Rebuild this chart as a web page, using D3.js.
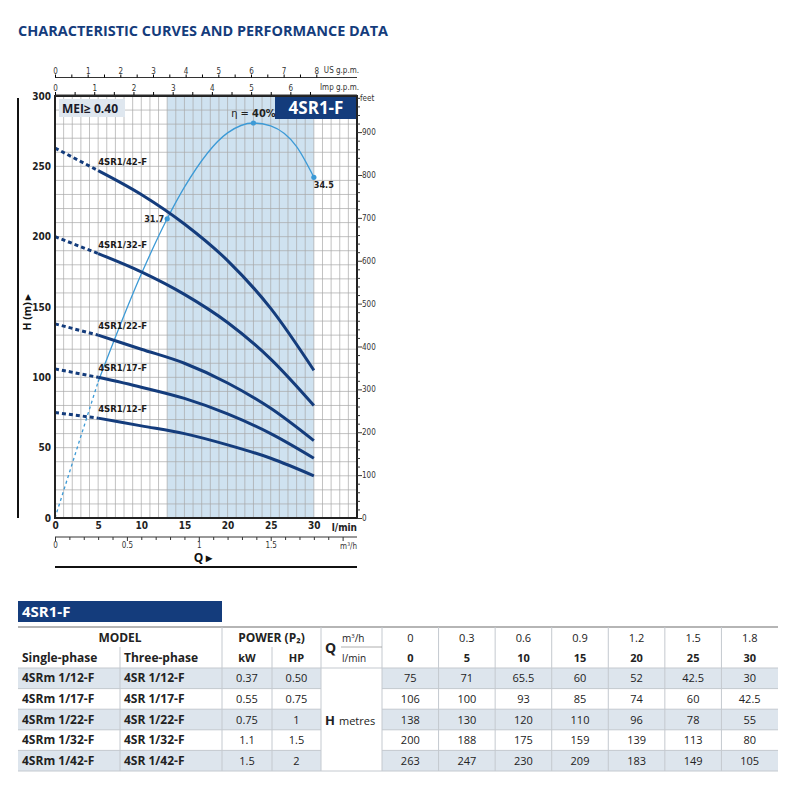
<!DOCTYPE html>
<html lang="en">
<head>
<meta charset="UTF-8">
<title>4SR1-F characteristic curves</title>
<script src="https://cdn.jsdelivr.net/npm/d3@7"></script>
<style>
body { margin: 0; background: #fff; }
svg { display: block; font-family: "Open Sans", sans-serif; }
.narrow { font-family: "Liberation Sans Narrow", "DejaVu Sans Condensed", sans-serif; }
</style>
</head>
<body>
<svg id="chart" width="800" height="800"></svg>
<script>
// ---- data ----
const flowLpm = [0, 5, 10, 15, 20, 25, 30];
const flowM3h = ["0", "0.3", "0.6", "0.9", "1.2", "1.5", "1.8"];
const curveNames = ["4SR1/12-F", "4SR1/17-F", "4SR1/22-F", "4SR1/32-F", "4SR1/42-F"];
const singlePhase = ["4SRm 1/12-F", "4SRm 1/17-F", "4SRm 1/22-F", "4SRm 1/32-F", "4SRm 1/42-F"];
const threePhase = ["4SR 1/12-F", "4SR 1/17-F", "4SR 1/22-F", "4SR 1/32-F", "4SR 1/42-F"];
const powerKw = ["0.37", "0.55", "0.75", "1.1", "1.5"];
const powerHp = ["0.50", "0.75", "1", "1.5", "2"];
const head12 = [75, 71, 65.5, 60, 52, 42.5, 30];
const head17 = [106, 100, 93, 85, 74, 60, 42.5];
const head22 = [138, 130, 120, 110, 96, 78, 55];
const head32 = [200, 188, 175, 159, 139, 113, 80];
const head42 = [263, 247, 230, 209, 183, 149, 105];
const heads = [head12, head17, head22, head32, head42];

// efficiency curve
const etaFlow = [0, 5, 10, 13, 15, 20, 23, 25, 28, 30];
const etaValues = [0, 13.8, 24.7, 30.3, 33.5, 39, 40, 39.7, 37.6, 34.5];
const etaMarkIdx = [3, 6, 9];
const etaMarkLabels = ["31.7", "40%", "34.5"];
const bandFlow = [13, 30];

const hTicks = [0, 50, 100, 150, 200, 250, 300];
const lpmTicks = [0, 5, 10, 15, 20, 25, 30];

const navy = "#143c7c";
const etaBlue = "#3c9ad6";

const svg = d3.select("#chart");

// title
svg.append("text")
    .attr("x", 18).attr("y", 36)
    .attr("fill", navy)
    .attr("font-weight", "bold")
    .attr("font-size", 14)
    .attr("textLength", 370)
    .attr("lengthAdjust", "spacingAndGlyphs")
    .text("CHARACTERISTIC CURVES AND PERFORMANCE DATA");

// ---- scales ----
const L = 55, R = 357, T = 96, B = 518;
const x = d3.scaleLinear().domain([0, 35]).range([L, R]);
const y = d3.scaleLinear().domain([0, 300]).range([B, T]);
const yEta = d3.scaleLinear().domain([0, 40]).range([B, 123]);
const yFt = d3.scaleLinear().domain([0, 300 * 3.28084]).range([B, T]);
const xUS = d3.scaleLinear().domain([0, 35 / 3.78541]).range([L, R]);
const xImp = d3.scaleLinear().domain([0, 35 / 4.54609]).range([L, R]);
const xM3 = d3.scaleLinear().domain([0, 2.1]).range([L, R]);

// efficiency band
svg.append("rect")
    .attr("x", x(bandFlow[0])).attr("y", T)
    .attr("width", x(bandFlow[1]) - x(bandFlow[0])).attr("height", B - T)
    .attr("fill", "#cfe2f0");

// grid
const grid = svg.append("g").attr("stroke", "#a8a8a8").attr("stroke-width", 0.7);
grid.selectAll(".v").data(d3.range(1, 35)).join("line")
    .attr("x1", d => x(d)).attr("x2", d => x(d)).attr("y1", T).attr("y2", B);
grid.selectAll(".h").data(d3.range(10, 300, 10)).join("line")
    .attr("y1", d => y(d)).attr("y2", d => y(d)).attr("x1", L).attr("x2", R);

// MEI box and model badge
svg.append("rect").attr("x", 59).attr("y", 99).attr("width", 66).attr("height", 18).attr("fill", "#dfe7ef");
svg.append("text").attr("x", 62).attr("y", 113).attr("font-weight", "bold").attr("font-size", 12)
    .attr("fill", "#1a1a2a").text("MEI≥ 0.40");
svg.append("rect").attr("x", 275).attr("y", T).attr("width", R - 275).attr("height", 23).attr("fill", navy);
svg.append("text").attr("x", 316).attr("y", 114).attr("text-anchor", "middle")
    .attr("font-weight", "bold").attr("font-size", 17).attr("fill", "#fff").text("4SR1-F");

// efficiency curve
const etaPts = etaFlow.map((q, i) => [q, etaValues[i]]);
const etaLine = d3.line().x(d => x(d[0])).y(d => yEta(d[1])).curve(d3.curveMonotoneX);
svg.append("path").attr("d", etaLine(etaPts.slice(0, 2)))
    .attr("fill", "none").attr("stroke", etaBlue).attr("stroke-width", 1.3).attr("stroke-dasharray", "3,3");
svg.append("path").attr("d", etaLine(etaPts.slice(1)))
    .attr("fill", "none").attr("stroke", etaBlue).attr("stroke-width", 1.3);
svg.selectAll(".etaMark").data(etaMarkIdx).join("circle")
    .attr("cx", i => x(etaFlow[i])).attr("cy", i => yEta(etaValues[i])).attr("r", 2.6).attr("fill", etaBlue);

const m0 = etaMarkIdx[0], m1 = etaMarkIdx[1], m2 = etaMarkIdx[2];
svg.append("text").attr("class", "narrow").attr("x", x(etaFlow[m0]) - 3).attr("y", yEta(etaValues[m0]) + 3)
    .attr("text-anchor", "end").attr("font-size", 9).attr("font-weight", "bold").attr("fill", "#222")
    .text(etaMarkLabels[0]);
svg.append("text").attr("class", "narrow").attr("x", x(etaFlow[m2])).attr("y", yEta(etaValues[m2]) + 11)
    .attr("font-size", 9).attr("font-weight", "bold").attr("fill", "#222").text(etaMarkLabels[2]);
const etaTxt = svg.append("text").attr("class", "narrow").attr("x", x(etaFlow[m1])).attr("y", yEta(etaValues[m1]) - 6)
    .attr("text-anchor", "middle").attr("font-size", 11).attr("fill", "#222");
etaTxt.append("tspan").text("η = ");
etaTxt.append("tspan").attr("font-weight", "bold").text(etaMarkLabels[1]);

// pump curves
const headLine = d3.line().x(d => x(d[0])).y(d => y(d[1])).curve(d3.curveMonotoneX);
heads.forEach((h, k) => {
    const pts = flowLpm.map((q, i) => [q, h[i]]);
    svg.append("path").attr("d", headLine(pts.slice(0, 2)))
        .attr("fill", "none").attr("stroke", navy).attr("stroke-width", 3).attr("stroke-dasharray", "4,3");
    svg.append("path").attr("d", headLine(pts.slice(1)))
        .attr("fill", "none").attr("stroke", navy).attr("stroke-width", 3);
    svg.append("text").attr("class", "narrow")
        .attr("x", x(flowLpm[1])).attr("y", y(h[1]) - 6)
        .attr("font-size", 9.5).attr("font-weight", "bold").attr("fill", "#1a1a1a")
        .text(curveNames[k]);
});

// frame
svg.append("rect").attr("x", L).attr("y", T).attr("width", R - L).attr("height", B - T)
    .attr("fill", "none").attr("stroke", "#222").attr("stroke-width", 2);

// left H axis
const gLeft = svg.append("g").attr("class", "narrow").attr("transform", `translate(${L - 2},0)`)
    .call(d3.axisLeft(y).tickValues(hTicks).tickSize(0).tickPadding(2));
gLeft.select(".domain").remove();
gLeft.selectAll("text").attr("font-size", 10).attr("font-weight", "bold").attr("fill", "#222");

// bottom l/min axis
const gBot = svg.append("g").attr("class", "narrow").attr("transform", `translate(0,${B + 1})`)
    .call(d3.axisBottom(x).tickValues(lpmTicks).tickSize(0).tickPadding(3));
gBot.select(".domain").remove();
gBot.selectAll("text").attr("font-size", 10).attr("font-weight", "bold").attr("fill", "#222");
svg.append("text").attr("class", "narrow").attr("x", R).attr("y", B + 13).attr("text-anchor", "end")
    .attr("font-size", 10).attr("font-weight", "bold").attr("fill", "#222").text("l/min");

// right feet axis
const gFt = svg.append("g").attr("class", "narrow").attr("transform", `translate(${R},0)`)
    .call(d3.axisRight(yFt).tickValues(d3.range(0, 981, 20))
        .tickFormat(d => d % 100 === 0 ? d : "").tickSize(3).tickPadding(2));
gFt.select(".domain").remove();
gFt.selectAll(".tick line").attr("x2", d => d % 100 === 0 ? 5 : 3).attr("stroke", "#333");
gFt.selectAll("text").attr("font-size", 8).attr("fill", "#333");
svg.append("text").attr("class", "narrow").attr("x", R + 3).attr("y", T + 5)
    .attr("font-size", 8).attr("fill", "#333").text("feet");

// top axes: US and Imperial gallons per minute
function topAxis(scale, ypos, maxTick, maxLabel, unit) {
    const g = svg.append("g").attr("class", "narrow").attr("transform", `translate(0,${ypos})`)
        .call(d3.axisTop(scale).tickValues(d3.range(0, maxTick + 0.01, 0.5))
            .tickFormat(d => Number.isInteger(d) && d <= maxLabel ? d : "").tickSize(3).tickPadding(1));
    g.select(".domain").attr("d", `M${L},0H${R}`).attr("stroke", "#333");
    g.selectAll("text").attr("font-size", 8).attr("fill", "#333");
    svg.append("text").attr("class", "narrow").attr("x", R + 2).attr("y", ypos - 5).attr("text-anchor", "end")
        .attr("font-size", 8).attr("fill", "#333").text(unit);
}
topAxis(xUS, 77.5, 8, 8, "US g.p.m.");
topAxis(xImp, T - 1, 6.5, 6, "Imp g.p.m.");

// m3/h axis
const gM3 = svg.append("g").attr("class", "narrow").attr("transform", "translate(0,537)")
    .call(d3.axisBottom(xM3).tickValues(d3.range(0, 21).map(d => d / 10))
        .tickFormat(d => (Math.round(d * 10) % 5 === 0 && d < 2) ? d : "").tickSize(3).tickPadding(2));
gM3.select(".domain").attr("d", `M${L},0H${R}`).attr("stroke", "#333");
gM3.selectAll(".tick line").attr("y2", d => Math.round(d * 10) % 5 === 0 ? 4 : 3).attr("stroke", "#333");
gM3.selectAll("text").attr("font-size", 8).attr("fill", "#333");
const m3Lab = svg.append("text").attr("class", "narrow").attr("x", R).attr("y", 549).attr("text-anchor", "end")
    .attr("font-size", 8).attr("fill", "#333");
m3Lab.append("tspan").text("m");
m3Lab.append("tspan").attr("font-size", 5).attr("dy", -3).text("3");
m3Lab.append("tspan").attr("dy", 3).text("/h");

// axis titles and decorative rules
svg.append("line").attr("x1", 18).attr("x2", 18).attr("y1", 98).attr("y2", B)
    .attr("stroke", "#111").attr("stroke-width", 2);
svg.append("text").attr("transform", "translate(31,312) rotate(-90)").attr("text-anchor", "middle")
    .attr("font-size", 10.5).attr("font-weight", "bold").attr("fill", "#111").text("H  (m)  ▸");
svg.append("text").attr("x", 203).attr("y", 562).attr("text-anchor", "middle")
    .attr("font-size", 12).attr("font-weight", "bold").attr("fill", "#111").text("Q  ▸");
svg.append("line").attr("x1", L).attr("x2", R).attr("y1", 567).attr("y2", 567)
    .attr("stroke", "#111").attr("stroke-width", 2);

// ---- performance table ----
svg.append("rect").attr("x", 18).attr("y", 601).attr("width", 204).attr("height", 21).attr("fill", navy);
svg.append("text").attr("x", 22).attr("y", 617).attr("font-size", 15).attr("font-weight", "bold")
    .attr("fill", "#fff").text("4SR1-F");

const colX = [18, 120, 222, 272, 321, 382].concat(d3.range(1, 8).map(i => 382 + i * (778 - 382) / 7));
const hdrTop = 627, hdrMid = 647, hdrBot = 668;
const rowH = (771 - hdrBot) / 5;
const rowY = d3.range(6).map(i => hdrBot + i * rowH);
const tbl = svg.append("g").attr("font-size", 11).attr("fill", "#222");

// row shading
rowY.slice(0, 5).forEach((ry, i) => {
    if (i % 2 === 0) {
        tbl.append("rect").attr("x", 18).attr("y", ry).attr("width", 778 - 18).attr("height", rowH)
            .attr("fill", "#dde5ed");
    }
});
tbl.append("rect").attr("x", colX[4]).attr("y", hdrBot).attr("width", colX[5] - colX[4])
    .attr("height", 771 - hdrBot).attr("fill", "#fff");

// rules (the H metres cell spans all rows, so inner rules skip it)
const rule = "#c4c9cf";
rowY.forEach((ry, i) => {
    const inner = i > 0 && i < 5;
    const segs = inner ? [[18, colX[4]], [colX[5], 778]] : [[18, 778]];
    segs.forEach(s => tbl.append("line").attr("x1", s[0]).attr("x2", s[1]).attr("y1", ry).attr("y2", ry)
        .attr("stroke", rule).attr("stroke-width", 1));
});
tbl.append("line").attr("x1", 18).attr("x2", 778).attr("y1", hdrTop).attr("y2", hdrTop)
    .attr("stroke", "#b5b5b5").attr("stroke-width", 2);
colX.slice(1, -1).forEach((cx, i) => {
    const top = (i === 0 || i === 2) ? hdrMid : hdrTop;
    tbl.append("line").attr("x1", cx).attr("x2", cx).attr("y1", top).attr("y2", 771)
        .attr("stroke", rule).attr("stroke-width", 1);
});
tbl.append("line").attr("x1", 341).attr("x2", colX[5]).attr("y1", hdrMid).attr("y2", hdrMid)
    .attr("stroke", "#999").attr("stroke-width", 0.8);

const mid = (a, b) => (a + b) / 2;
// header texts
tbl.append("text").attr("x", mid(colX[0], colX[2])).attr("y", 642).attr("text-anchor", "middle")
    .attr("font-weight", "bold").attr("font-size", 12).text("MODEL");
tbl.append("text").attr("x", mid(colX[2], colX[4])).attr("y", 642).attr("text-anchor", "middle")
    .attr("font-weight", "bold").attr("font-size", 12).text("POWER (P₂)");
tbl.append("text").attr("x", 22).attr("y", 662).attr("font-weight", "bold").attr("font-size", 12).text("Single-phase");
tbl.append("text").attr("x", 124).attr("y", 662).attr("font-weight", "bold").attr("font-size", 12).text("Three-phase");
tbl.append("text").attr("x", mid(colX[2], colX[3])).attr("y", 662).attr("text-anchor", "middle")
    .attr("font-weight", "bold").text("kW");
tbl.append("text").attr("x", mid(colX[3], colX[4])).attr("y", 662).attr("text-anchor", "middle")
    .attr("font-weight", "bold").text("HP");
tbl.append("text").attr("x", 325).attr("y", 653).attr("font-weight", "bold").attr("font-size", 14).text("Q");
const m3h = tbl.append("text").attr("x", 342).attr("y", 642).attr("font-size", 10);
m3h.append("tspan").text("m");
m3h.append("tspan").attr("font-size", 6).attr("dy", -4).text("3");
m3h.append("tspan").attr("dy", 4).text("/h");
tbl.append("text").attr("x", 342).attr("y", 662).attr("font-size", 10).text("l/min");

flowM3h.forEach((v, i) => {
    tbl.append("text").attr("x", mid(colX[5 + i], colX[6 + i])).attr("y", 642)
        .attr("text-anchor", "middle").text(v);
    tbl.append("text").attr("x", mid(colX[5 + i], colX[6 + i])).attr("y", 662)
        .attr("text-anchor", "middle").attr("font-weight", "bold").text(flowLpm[i]);
});

// data rows
const hCell = tbl.append("text").attr("x", 325).attr("y", mid(hdrBot, 771) + 5);
hCell.append("tspan").attr("font-weight", "bold").attr("font-size", 13).text("H");
hCell.append("tspan").attr("dx", 4).attr("font-size", 11).text("metres");

heads.forEach((h, r) => {
    const ty = rowY[r] + rowH / 2 + 4;
    tbl.append("text").attr("x", 22).attr("y", ty).attr("font-weight", "bold").attr("font-size", 12).text(singlePhase[r]);
    tbl.append("text").attr("x", 124).attr("y", ty).attr("font-weight", "bold").attr("font-size", 12).text(threePhase[r]);
    tbl.append("text").attr("x", mid(colX[2], colX[3])).attr("y", ty).attr("text-anchor", "middle").text(powerKw[r]);
    tbl.append("text").attr("x", mid(colX[3], colX[4])).attr("y", ty).attr("text-anchor", "middle").text(powerHp[r]);
    h.forEach((v, i) => {
        tbl.append("text").attr("x", mid(colX[5 + i], colX[6 + i])).attr("y", ty)
            .attr("text-anchor", "middle").text(v);
    });
});
</script>
</body>
</html>
